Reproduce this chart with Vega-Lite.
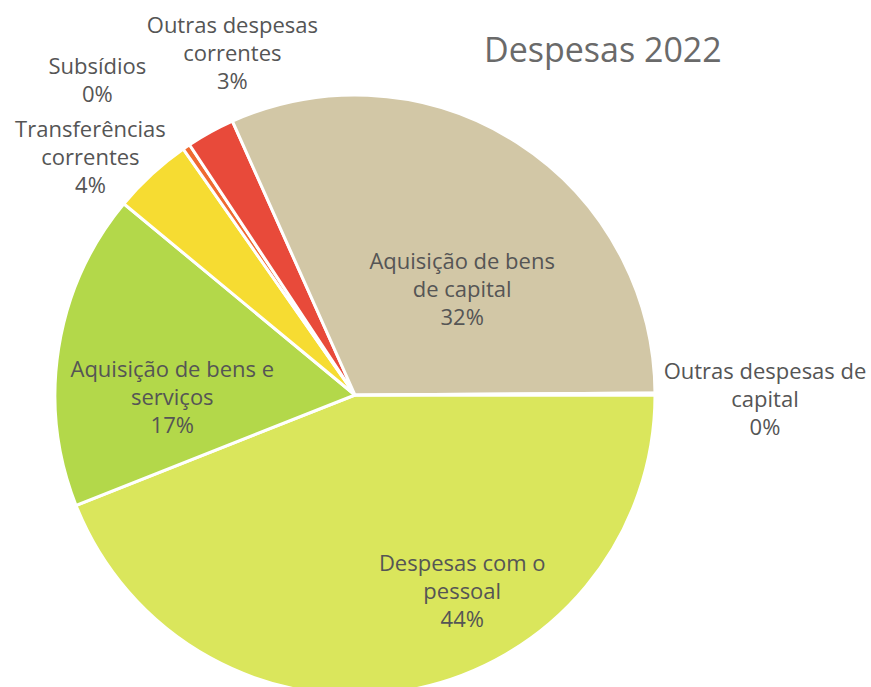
{
  "$schema": "https://vega.github.io/schema/vega-lite/v6.json",
  "width": 710,
  "height": 790,
  "autosize": "none",
  "padding": {"left": 0, "top": 0, "right": 161, "bottom": -103},
  "background": "white",
  "title": {
    "text": "Despesas 2022",
    "orient": "top",
    "frame": "group",
    "anchor": "start",
    "offset": 0,
    "dx": 484,
    "dy": 96,
    "baseline": "alphabetic",
    "font": "Open Sans",
    "fontSize": 34,
    "fontWeight": "normal",
    "color": "#6a6a6a"
  },
  "data": {
    "values": [
      {"ord": 1, "cat": "Despesas com o pessoal", "value": 44.0, "label": "Despesas com o\npessoal\n44%"},
      {"ord": 2, "cat": "Aquisição de bens e serviços", "value": 17.0, "label": "Aquisição  de bens e\nserviços\n17%"},
      {"ord": 3, "cat": "Transferências correntes", "value": 4.3, "label": "Transferências\ncorrentes\n4%"},
      {"ord": 4, "cat": "Subsídios", "value": 0.4, "label": "Subsídios\n0%"},
      {"ord": 5, "cat": "Outras despesas correntes", "value": 2.6, "label": "Outras despesas\ncorrentes\n3%"},
      {"ord": 6, "cat": "Aquisição de bens de capital", "value": 31.6, "label": "Aquisição de bens\nde capital\n32%"},
      {"ord": 7, "cat": "Outras despesas de capital", "value": 0.1, "label": "Outras despesas de\ncapital\n0%"}
    ]
  },
  "encoding": {
    "theta": {"field": "value", "type": "quantitative", "stack": true, "scale": {"range": [1.5708, 7.8540]}},
    "order": {"field": "ord", "type": "quantitative"}
  },
  "layer": [
    {
      "mark": {"type": "arc", "outerRadius": 300, "stroke": "white", "strokeWidth": 3},
      "encoding": {
        "color": {
          "field": "cat",
          "type": "nominal",
          "legend": null,
          "scale": {
            "domain": ["Despesas com o pessoal", "Aquisição de bens e serviços", "Transferências correntes", "Subsídios", "Outras despesas correntes", "Aquisição de bens de capital", "Outras despesas de capital"],
            "range": ["#dae65c", "#b3d84a", "#f6dc32", "#ef6a30", "#e84a3a", "#d2c7a6", "#c9b48a"]
          }
        }
      }
    },
    {
      "mark": {"type": "text", "radius": 220, "dx": 66, "dy": -47, "lineBreak": "\n", "lineHeight": 28, "font": "Open Sans", "fontSize": 22, "color": "#555555", "baseline": "middle", "align": "center"},
      "encoding": {"text": {"condition": {"test": "datum.ord === 1", "field": "label"}, "value": ""}}
    },
    {
      "mark": {"type": "text", "radius": 185, "dx": 0, "dy": 4, "lineBreak": "\n", "lineHeight": 28, "font": "Open Sans", "fontSize": 22, "color": "#555555", "baseline": "middle", "align": "center"},
      "encoding": {"text": {"condition": {"test": "datum.ord === 2", "field": "label"}, "value": ""}}
    },
    {
      "mark": {"type": "text", "radius": 355, "dx": -24, "dy": -4, "lineBreak": "\n", "lineHeight": 28, "font": "Open Sans", "fontSize": 22, "color": "#555555", "baseline": "middle", "align": "center"},
      "encoding": {"text": {"condition": {"test": "datum.ord === 3", "field": "label"}, "value": ""}}
    },
    {
      "mark": {"type": "text", "radius": 405, "dx": -30, "dy": 7, "lineBreak": "\n", "lineHeight": 28, "font": "Open Sans", "fontSize": 22, "color": "#555555", "baseline": "middle", "align": "center"},
      "encoding": {"text": {"condition": {"test": "datum.ord === 4", "field": "label"}, "value": ""}}
    },
    {
      "mark": {"type": "text", "radius": 375, "dx": 58, "dy": -40, "lineBreak": "\n", "lineHeight": 28, "font": "Open Sans", "fontSize": 22, "color": "#555555", "baseline": "middle", "align": "center"},
      "encoding": {"text": {"condition": {"test": "datum.ord === 5", "field": "label"}, "value": ""}}
    },
    {
      "mark": {"type": "text", "radius": 150, "dx": 26, "dy": -7, "lineBreak": "\n", "lineHeight": 28, "font": "Open Sans", "fontSize": 22, "color": "#555555", "baseline": "middle", "align": "center"},
      "encoding": {"text": {"condition": {"test": "datum.ord === 6", "field": "label"}, "value": ""}}
    },
    {
      "mark": {"type": "text", "radius": 410, "dx": 0, "dy": -22, "lineBreak": "\n", "lineHeight": 28, "font": "Open Sans", "fontSize": 22, "color": "#555555", "baseline": "middle", "align": "center"},
      "encoding": {"text": {"condition": {"test": "datum.ord === 7", "field": "label"}, "value": ""}}
    }
  ]
}
